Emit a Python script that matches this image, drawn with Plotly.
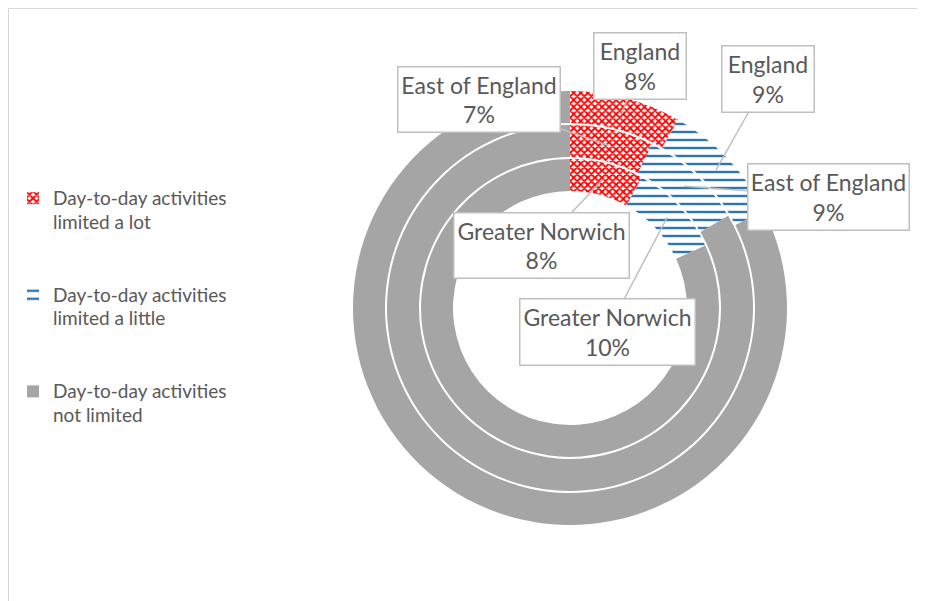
import math

import plotly.graph_objects as go

# rings from the inside out
AREAS = ["Greater Norwich", "East of England", "England"]
LIMITED_LOT = [8.0, 7.4, 8.3]
LIMITED_LITTLE = [10.1, 9.2, 9.3]
NOT_LIMITED = [81.9, 83.4, 82.4]

CATEGORIES = [
    ["Day-to-day activities", "limited a lot"],
    ["Day-to-day activities", "limited a little"],
    ["Day-to-day activities", "not limited"],
]

# the page body adds an 8px margin, so the figure is drawn 8px in
W, H = 925, 601
CX, CY = 562, 300  # centre of the rings, px
RINGS = [(117, 149), (151, 183), (185, 217)]  # inner / outer radius, px

RED, BLUE, GREY = "#ff0000", "#2e75b6", "#a5a5a5"
TEXT = "#595959"

# callout boxes: centre x, centre y, width, height (px)
BOXES = {
    ("England", 0): (631.5, 58.5, 93, 67),
    ("England", 1): (759.5, 70.5, 93, 67),
    ("East of England", 0): (470.5, 92, 163, 66),
    ("East of England", 1): (820, 188.5, 162, 67),
    ("Greater Norwich", 0): (533, 237, 176, 66),
    ("Greater Norwich", 1): (599, 323.5, 176, 67),
}


def legend_label(lines: list) -> str:
    spans = [f"<span style='font-size:19px'>{t}</span>" for t in lines]
    return "<br>".join(spans + [" ", " "])


labels = [legend_label(c) for c in CATEGORIES]

fig = go.Figure()
annotations = []
for i, area in enumerate(AREAS):
    r_in, r_out = RINGS[i]
    values = [LIMITED_LOT[i], LIMITED_LITTLE[i], NOT_LIMITED[i]]
    fig.add_trace(
        go.Pie(
            labels=labels,
            values=values,
            name=area,
            domain={
                "x": [(CX - r_out) / W, (CX + r_out) / W],
                "y": [(H - CY - r_out) / H, (H - CY + r_out) / H],
            },
            hole=r_in / r_out,
            sort=False,
            direction="clockwise",
            rotation=0,
            textinfo="none",
            hoverinfo="skip",
            showlegend=i == 0,
            marker={
                "colors": [RED, BLUE, GREY],
                "line": {"width": 0},
                "pattern": {
                    "shape": ["x", "-", ""],
                    "bgcolor": ["white", "white", GREY],
                    "size": [5, 8, 8],
                    "solidity": [0.6, 0.3, 0.3],
                },
            },
        )
    )

    # callouts for the two "limited" slices
    total = sum(values)
    start = 0
    for k in range(2):
        mid = (start + values[k] / 2) / total * 2 * math.pi
        start += values[k]
        r = (r_in + r_out) / 2
        px = CX + r * math.sin(mid)
        py = CY - r * math.cos(mid)
        bx, by, bw, bh = BOXES[(area, k)]
        annotations.append(
            dict(
                x=px / W,
                y=1 - py / H,
                xref="paper",
                yref="paper",
                ax=bx - px,
                ay=by - py,
                text=f"{area}<br>{values[k]:.0f}%",
                showarrow=True,
                arrowhead=0,
                arrowwidth=1.5,
                arrowcolor="#bfbfbf",
                width=bw - 6,
                height=bh - 6,
                borderpad=2,
                borderwidth=1.5,
                bordercolor="#bfbfbf",
                bgcolor="white",
                font={"size": 23, "color": TEXT, "family": "Lato"},
            )
        )

fig.update_layout(
    width=W,
    height=H,
    margin={"l": 0, "r": 0, "t": 0, "b": 0},
    paper_bgcolor="white",
    font={"family": "Lato", "color": TEXT},
    annotations=annotations,
    legend={
        "x": 5 / W,
        "y": 1 - 172 / H,
        "xanchor": "left",
        "yanchor": "top",
        "valign": "top",
        "font": {"size": 18, "color": TEXT, "family": "Lato"},
        "bgcolor": "rgba(0,0,0,0)",
    },
    shapes=[
        dict(
            type="rect",
            xref="paper",
            yref="paper",
            x0=0.5 / W,
            x1=1.05,
            y0=-0.05,
            y1=1 - 0.5 / H,
            line={"color": "#d9d9d9", "width": 1},
            layer="below",
        )
    ],
)

fig.write_html("out.html")
